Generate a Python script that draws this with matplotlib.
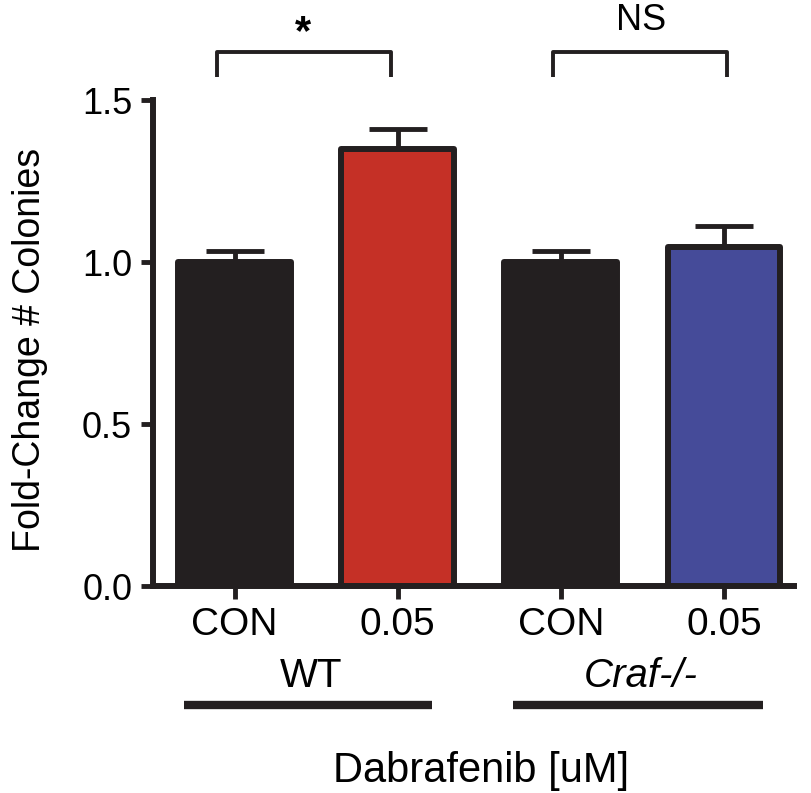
import matplotlib
matplotlib.use("Agg")
import matplotlib.pyplot as plt

plt.rcParams['font.family'] = ['Liberation Sans', 'DejaVu Sans']

# ---- data ----
tick_labels = ["CON", "0.05", "CON", "0.05"]
values = [1.00, 1.35, 1.00, 1.045]
errors = [0.035, 0.06, 0.035, 0.065]
colors = ["#231f20", "#c53026", "#231f20", "#454b99"]
groups = ["WT", "Craf-/-"]
group_members = [[0, 1], [2, 3]]
sig_labels = ["*", "NS"]
yticks = [0.0, 0.5, 1.0, 1.5]
xlabel = "Dabrafenib [uM]"
ylabel = "Fold-Change # Colonies"

W, H = 812, 793
fig = plt.figure(figsize=(W / 100, H / 100), dpi=100)
ax = fig.add_axes([153 / W, 1 - 586 / H, 641 / W, 486 / H])

dark = "#231f20"
x = list(range(len(values)))
ax.bar(x, values, width=0.69, color=colors, edgecolor=dark, linewidth=4.3,
       joinstyle='round', zorder=2)
ax.errorbar(x, values, yerr=[[0] * len(errors), errors], fmt='none',
            ecolor=dark, elinewidth=3.5, capsize=21, capthick=3.5, zorder=1)

ax.set_xlim(-0.5, 3.43)
ax.set_ylim(0, 1.5)
ax.set_yticks(yticks)
ax.set_yticklabels([f"{t:.1f}" for t in yticks])
ax.set_xticks(x)
ax.set_xticklabels(tick_labels)

for s in ['top', 'right']:
    ax.spines[s].set_visible(False)
for s in ['left', 'bottom']:
    ax.spines[s].set_linewidth(4.3)
    ax.spines[s].set_color(dark)
    ax.spines[s].set_capstyle('projecting')
ax.tick_params(axis='both', direction='out', length=9, width=3.5, color=dark,
               labelcolor='black')
ax.tick_params(axis='y', pad=6, labelsize=26)
ax.tick_params(axis='x', pad=6, labelsize=28)

# group labels and underline bars
xt = ax.get_xaxis_transform()
label_x = [0.47, 2.49]
line_span = [(-0.31, 1.21), (1.71, 3.24)]
bracket_span = [(-0.11, 0.957), (1.95, 3.02)]
for gi, (g, mem) in enumerate(zip(groups, group_members)):
    ax.text(label_x[gi], -0.208, g, transform=xt, ha='center', va='baseline', fontsize=29,
            style='italic' if gi == 1 else 'normal', clip_on=False)
    ax.plot(list(line_span[gi]), [-0.245, -0.245], transform=xt,
            color=dark, lw=6, solid_capstyle='butt', clip_on=False)

    # significance bracket
    xl, xr = bracket_span[gi]
    ax.plot([xl, xl, xr, xr], [1.571, 1.648, 1.648, 1.571], color=dark, lw=2.8,
            solid_joinstyle='round', solid_capstyle='butt', clip_on=False)

ax.text(0.42, 1.674, sig_labels[0], ha='center', va='baseline', fontsize=30,
        fontweight='bold', clip_on=False)
ax.text(2.49, 1.716, sig_labels[1], ha='center', va='baseline', fontsize=26,
        clip_on=False)

ax.text(1.51, -0.403, xlabel, transform=xt, ha='center', va='baseline', fontsize=30,
        clip_on=False)
fig.text(30 / W, 1 - 350 / H, ylabel, rotation=90, ha='center', va='center', fontsize=27)

fig.savefig("out.png", dpi=100, facecolor='white')
